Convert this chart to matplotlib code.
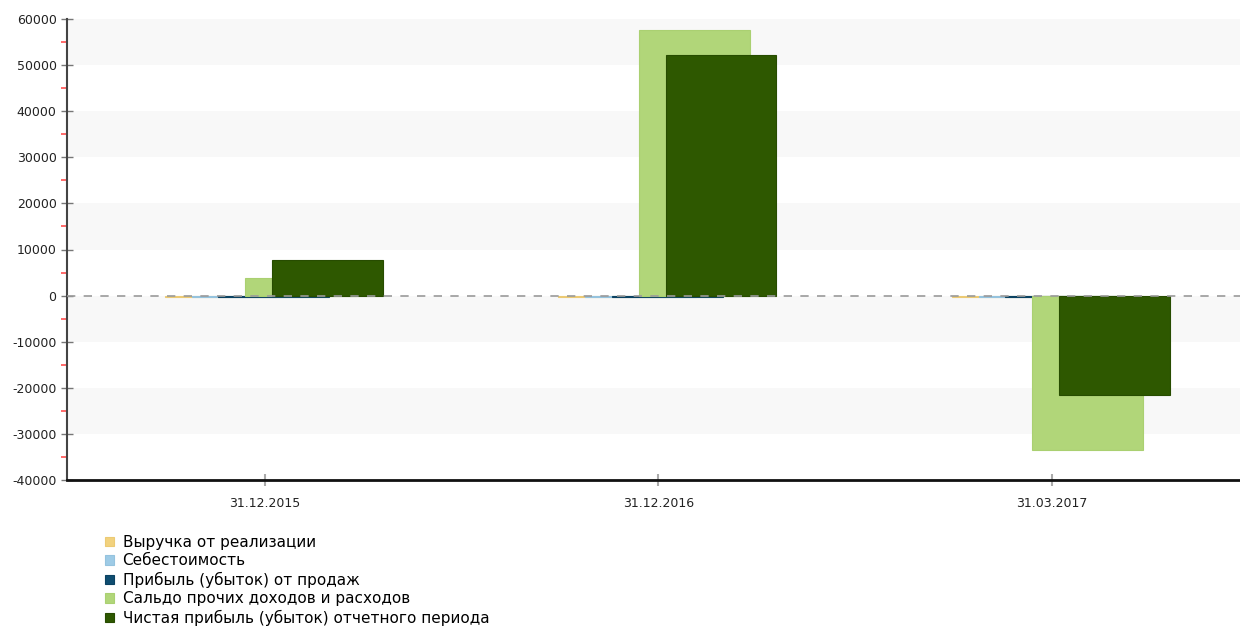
import numpy as np
import matplotlib
matplotlib.use("Agg")
import matplotlib.pyplot as plt
from matplotlib.ticker import MultipleLocator

plt.rcParams["axes.unicode_minus"] = False

# -------------------------------
# Data
# -------------------------------
categories = ["31.12.2015", "31.12.2016", "31.03.2017"]

series_names = [
    "Выручка от реализации",
    "Себестоимость",
    "Прибыль (убыток) от продаж",
    "Сальдо прочих доходов и расходов",
    "Чистая прибыль (убыток) отчетного периода",
]
revenue = [-250, -250, -250]
cost = [-250, -250, -250]
sales_profit = [-300, -300, -300]
other_balance = [3900, 57600, -33600]
net_profit = [7700, 52200, -21500]

values = [revenue, cost, sales_profit, other_balance, net_profit]
colors = ["#f2d27e", "#9ecbe6", "#0e4d70", "#b1d679", "#2e5800"]
edges = ["#ecca74", "#95c3de", "#0b4262", "#aad071", "#274c00"]

# -------------------------------
# Figure
# -------------------------------
fig = plt.figure(figsize=(12.4, 6.36), dpi=100)
ax = fig.add_axes([67 / 1240, 156 / 636, 1173 / 1240, 461 / 636])

# alternating bands
for lo in [50000, 30000, 10000, -10000, -30000]:
    ax.axhspan(lo, lo + 10000, color="#f8f8f8", zorder=0, lw=0)

x = np.arange(len(categories))
step = 0.068
width = 0.282
shift = 0.023

bars = []
for i, (vals, c, e, name) in enumerate(zip(values, colors, edges, series_names)):
    b = ax.bar(x + (i - 2) * step + shift, vals, width=width, color=c,
               edgecolor=e, linewidth=0.8, label=name, zorder=2 + i)
    bars.append(b)

# zero line
ax.axhline(0, color="#9a9a9a", linestyle=(0, (5, 5)), linewidth=1.2, zorder=10)

ax.set_xlim(-0.503, 2.478)
ax.set_ylim(-40000, 60000)

ax.yaxis.set_major_locator(MultipleLocator(10000))
ax.yaxis.set_minor_locator(MultipleLocator(5000))
ax.set_xticks(x)
ax.set_xticklabels(categories, fontsize=9, color="#222222")
ax.tick_params(axis="y", which="major", direction="inout", length=9, width=1,
               color="#777777", labelsize=9, labelcolor="#222222", pad=3)
ax.tick_params(axis="y", which="minor", direction="out", length=4, width=1.2,
               color="#ff5050")
ax.tick_params(axis="x", direction="inout", length=9, width=1.5,
               color="#aaaaaa", pad=8)

for s in ["top", "right"]:
    ax.spines[s].set_visible(False)
ax.spines["left"].set_color("#444444")
ax.spines["left"].set_linewidth(1.5)
ax.spines["bottom"].set_color("#111111")
ax.spines["bottom"].set_linewidth(2)
ax.spines["bottom"].set_zorder(11)

fig.legend(handles=bars, labels=series_names, loc="upper left",
           bbox_to_anchor=(105 / 1240, 1 - 535 / 636), frameon=False,
           fontsize=11, handlelength=0.6, handleheight=0.6,
           handletextpad=0.55, labelspacing=0.22, borderaxespad=0,
           borderpad=0)

fig.savefig("out.png", dpi=100)
